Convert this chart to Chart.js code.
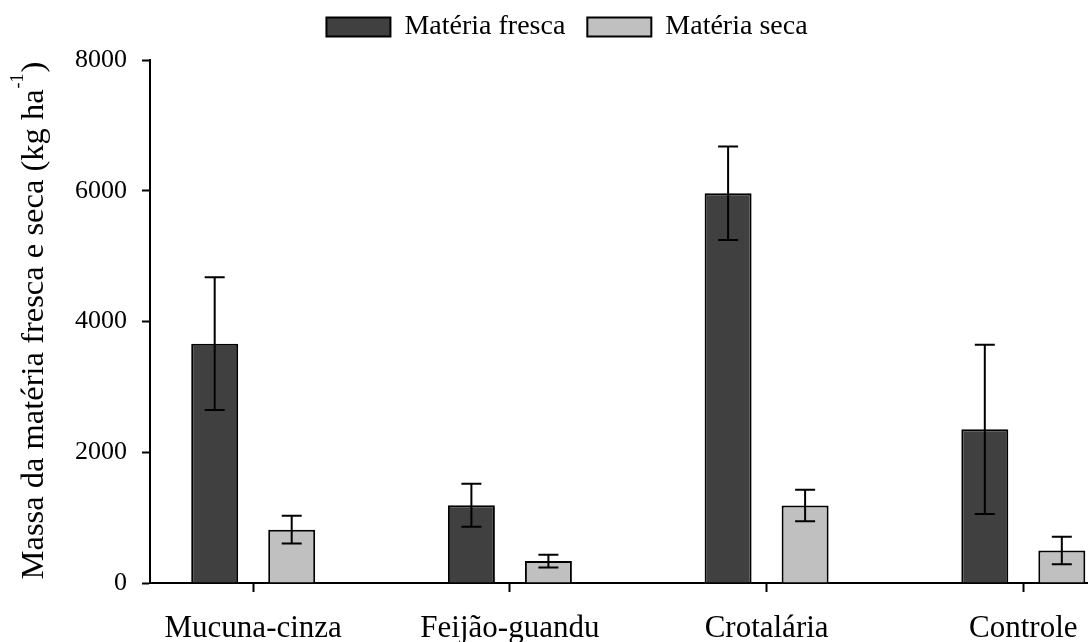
<!DOCTYPE html>
<html>
<head>
<meta charset="utf-8">
<script src="https://cdn.jsdelivr.net/npm/chart.js@4/dist/chart.umd.min.js"></script>
<style>
  html, body { margin: 0; padding: 0; background: #ffffff; }
  #wrap { width: 1088px; height: 642px; position: relative; }
</style>
</head>
<body>
<div id="wrap"><canvas id="chart" width="1088" height="642"></canvas></div>
<script>
// Cover crops and biomass (kg/ha)
const categories = ['Mucuna-cinza', 'Feijão-guandu', 'Crotalária', 'Controle'];
const seriesNames = ['Matéria fresca', 'Matéria seca'];
const freshMass = [3660, 1190, 5960, 2350];
const freshErr = [1015, 330, 715, 1295];
const dryMass = [815, 335, 1185, 497];
const dryErr = [212, 97, 240, 212];
const yTicks = [0, 2000, 4000, 6000, 8000];

const FONT = "'Liberation Serif', 'Times New Roman', serif";

// Error bars (mean ± error) drawn on top of each bar
const errorBars = {
  id: 'errorBars',
  afterDatasetsDraw(chart) {
    const ctx = chart.ctx;
    const yScale = chart.scales.y;
    chart.data.datasets.forEach((ds, di) => {
      const meta = chart.getDatasetMeta(di);
      meta.data.forEach((bar, i) => {
        const v = ds.data[i].y;
        const e = ds.errors[i];
        const yHi = yScale.getPixelForValue(v + e);
        const yLo = yScale.getPixelForValue(v - e);
        const x = bar.x;
        const cap = 10;
        ctx.save();
        ctx.strokeStyle = '#000';
        ctx.lineWidth = 2;
        ctx.beginPath();
        ctx.moveTo(x, yHi); ctx.lineTo(x, yLo);
        ctx.moveTo(x - cap, yHi); ctx.lineTo(x + cap, yHi);
        ctx.moveTo(x - cap, yLo); ctx.lineTo(x + cap, yLo);
        ctx.stroke();
        ctx.restore();
      });
    });
  }
};

// Rotated y-axis title with a superscript unit exponent
const yTitle = {
  id: 'yTitle',
  afterDraw(chart) {
    const ctx = chart.ctx;
    const main = 'Massa da matéria fresca e seca (kg ha';
    const sup = '-1';
    const tail = ')';
    const mainFont = '32.5px ' + FONT;
    const supFont = '18px ' + FONT;
    ctx.save();
    ctx.font = mainFont;
    const wMain = ctx.measureText(main).width;
    const wTail = ctx.measureText(tail).width;
    ctx.font = supFont;
    const wSup = ctx.measureText(sup).width;
    const total = wMain + wSup + 2 + wTail;
    const cy = 320.5;
    ctx.translate(43, cy);
    ctx.rotate(-Math.PI / 2);
    ctx.fillStyle = '#000';
    ctx.textBaseline = 'alphabetic';
    ctx.textAlign = 'left';
    let x = -total / 2;
    ctx.font = mainFont;
    ctx.fillText(main, x, 0);
    x += wMain + 1;
    ctx.font = supFont;
    ctx.fillText(sup, x, -20);
    x += wSup + 1;
    ctx.font = mainFont;
    ctx.fillText(tail, x, 0);
    ctx.restore();
  }
};

// Move the legend row to its place above the plot
const legendPlace = {
  id: 'legendPlace',
  afterLayout(chart) {
    const lg = chart.legend;
    if (!lg) return;
    const dx = 23, dy = -9;
    lg.left += dx; lg.right += dx;
    lg.top += dy; lg.bottom += dy;
  }
};

const ctx = document.getElementById('chart').getContext('2d');
new Chart(ctx, {
  type: 'bar',
  data: {
    datasets: [
      {
        label: seriesNames[0],
        data: categories.map((c, i) => ({ x: i, y: freshMass[i] })),
        errors: freshErr,
        backgroundColor: '#404040',
        borderColor: '#000000',
        borderWidth: 2,
        categoryPercentage: 0.6,
        barPercentage: 0.61
      },
      {
        label: seriesNames[1],
        data: categories.map((c, i) => ({ x: i, y: dryMass[i] })),
        errors: dryErr,
        backgroundColor: '#c0c0c0',
        borderColor: '#000000',
        borderWidth: 2,
        categoryPercentage: 0.6,
        barPercentage: 0.61
      }
    ]
  },
  options: {
    responsive: false,
    animation: false,
    devicePixelRatio: 1,
    layout: { padding: { top: 0, right: 0, bottom: 0, left: 0 } },
    plugins: {
      tooltip: { enabled: false },
      legend: {
        display: true,
        position: 'top',
        labels: {
          font: { family: FONT, size: 28 },
          color: '#000',
          boxWidth: 64,
          boxHeight: 19,
          padding: 22
        }
      }
    },
    scales: {
      x: {
        type: 'linear',
        min: -0.402,
        max: 3.252,
        offset: false,
        afterBuildTicks(scale) {
          scale.ticks = categories.map((c, i) => ({ value: i }));
        },
        afterFit(scale) {
          scale.height = 59;
          scale.paddingLeft = 0;
          scale.paddingRight = 0;
        },
        grid: {
          display: true,
          offset: false,
          drawOnChartArea: false,
          drawTicks: true,
          tickLength: 9,
          tickWidth: 2,
          tickColor: '#000'
        },
        border: { display: true, color: '#000', width: 2 },
        ticks: {
          autoSkip: false,
          maxRotation: 0,
          padding: 18,
          color: '#000',
          font: { family: FONT, size: 31 },
          callback: (v) => categories[v] ?? ''
        }
      },
      y: {
        min: 0,
        max: 8000,
        afterBuildTicks(scale) {
          scale.ticks = yTicks.map(v => ({ value: v }));
        },
        afterFit(scale) { scale.width = 150; },
        grid: {
          display: true,
          drawOnChartArea: false,
          drawTicks: true,
          tickLength: 8,
          tickWidth: 2,
          tickColor: '#000'
        },
        border: { display: true, color: '#000', width: 2 },
        ticks: {
          padding: 15,
          color: '#000',
          font: { family: FONT, size: 26 },
          callback: (v) => String(v)
        }
      }
    }
  },
  plugins: [errorBars, yTitle, legendPlace]
});
</script>
</body>
</html>
